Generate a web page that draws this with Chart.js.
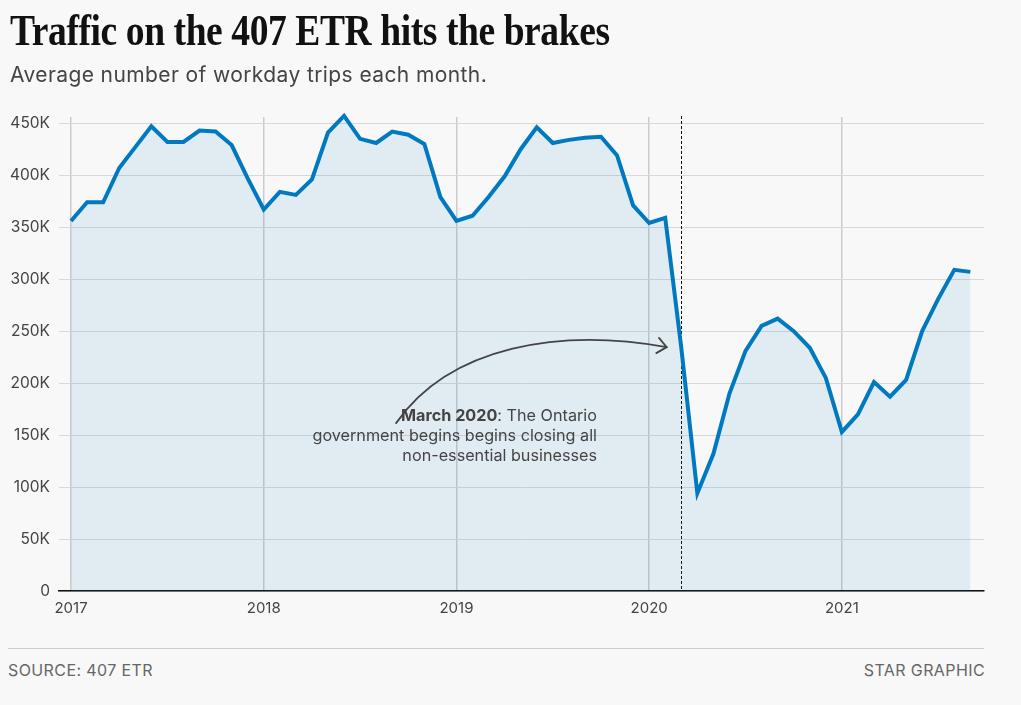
<!DOCTYPE html>
<html>
<head>
<meta charset="utf-8">
<script src="https://cdn.jsdelivr.net/npm/chart.js@4.4.1/dist/chart.umd.min.js"></script>
<style>
  html, body { margin: 0; padding: 0; background: #f8f8f8; }
  body { width: 1021px; height: 705px; position: relative; overflow: hidden; font-family: Inter, "Noto Sans", sans-serif; }
  #wrap { position: absolute; left: 0; top: 0; width: 1021px; height: 640px; }
  #title { position: absolute; left: 10px; top: 9px; font-family: "Liberation Serif", "DejaVu Serif", serif; font-weight: bold; font-size: 44px; line-height: 44px; color: #111; white-space: nowrap; transform-origin: 0 0; display: inline-block; letter-spacing: -0.5px; }
  #subtitle { position: absolute; left: 10px; top: 65px; font-size: 21px; line-height: 20px; letter-spacing: 0.4px; color: #444; white-space: nowrap; }
  #rule { position: absolute; left: 8px; top: 648px; width: 976px; height: 0; border-top: 1px solid #cccccc; }
  .foot { position: absolute; top: 663px; font-size: 16px; line-height: 15px; letter-spacing: 0.4px; color: #666; white-space: nowrap; }
  #source { left: 8px; }
  #credit { right: 36px; }
</style>
</head>
<body>
<div id="wrap"><canvas id="chart"></canvas></div>
<span id="title">Traffic on the 407 ETR hits the brakes</span>
<div id="subtitle">Average number of workday trips each month.</div>
<div id="rule"></div>
<div class="foot" id="source">SOURCE: 407 ETR</div>
<div class="foot" id="credit">STAR GRAPHIC</div>
<script>
// average workday trips, one entry per month
const trips2017 = [356000, 374000, 374000, 407000, 427000, 447000, 432000, 432000, 443000, 442000, 429000, 397000];
const trips2018 = [367000, 384000, 381000, 396000, 441000, 457000, 435000, 431000, 442000, 439000, 430000, 379000];
const trips2019 = [356000, 361000, 379000, 399000, 425000, 446000, 431000, 434000, 436000, 437000, 419000, 371000];
const trips2020 = [354000, 359000, 234000, 94000, 132000, 190000, 231000, 255000, 262000, 250000, 234000, 205000];
const trips2021 = [153000, 170000, 201000, 187000, 203000, 250000, 281000, 309000, 307000];

const yearLabels = ['2017', '2018', '2019', '2020', '2021'];
const yTicks = [0, 50000, 100000, 150000, 200000, 250000, 300000, 350000, 400000, 450000];

const trips = trips2017.concat(trips2018, trips2019, trips2020, trips2021);
const points = trips.map(function (v, i) { return { x: i, y: v }; });

// month index of March 2020 (lockdown marker)
const lockdownMonth = 38;

// annotation, in data units
const noteAnchor = { x: 32.75, y: 164000 };
const noteLines = [
    [{ t: 'March 2020', bold: true }, { t: ': The Ontario', bold: false }],
    [{ t: 'government begins begins closing all', bold: false }],
    [{ t: 'non-essential businesses', bold: false }]
];
const arrowPath = [
    { x: 20.24, y: 161500 },
    { x: 23.6, y: 236000 },
    { x: 30.45, y: 253000 },
    { x: 37.09, y: 234600 }
];

// fit the headline to its width
const title = document.getElementById('title');
title.style.transform = 'scaleX(' + (600 / title.offsetWidth) + ')';

const markers = {
    id: 'markers',
    beforeDatasetsDraw(chart) {
        const c = chart.ctx, xs = chart.scales.x, area = chart.chartArea;
        const px = Math.round(xs.getPixelForValue(lockdownMonth)) + 0.5;
        c.save();
        c.strokeStyle = '#111';
        c.lineWidth = 1;
        c.setLineDash([3, 2]);
        c.beginPath();
        c.moveTo(px, area.top - 1);
        c.lineTo(px, area.bottom);
        c.stroke();
        c.restore();
    },
    afterDatasetsDraw(chart) {
        const c = chart.ctx, xs = chart.scales.x, ys = chart.scales.y;
        const p = arrowPath.map(function (q) { return { x: xs.getPixelForValue(q.x), y: ys.getPixelForValue(q.y) }; });
        c.save();
        c.strokeStyle = '#444';
        c.lineWidth = 1.8;
        c.lineCap = 'round';
        c.beginPath();
        c.moveTo(p[0].x, p[0].y);
        c.bezierCurveTo(p[1].x, p[1].y, p[2].x, p[2].y, p[3].x, p[3].y);
        c.stroke();
        const ang = Math.atan2(p[3].y - p[2].y, p[3].x - p[2].x);
        c.beginPath();
        c.moveTo(p[3].x - 12 * Math.cos(ang - 0.7), p[3].y - 12 * Math.sin(ang - 0.7));
        c.lineTo(p[3].x, p[3].y);
        c.lineTo(p[3].x - 12 * Math.cos(ang + 0.7), p[3].y - 12 * Math.sin(ang + 0.7));
        c.stroke();

        // note text, right aligned
        const ax = xs.getPixelForValue(noteAnchor.x), ay = ys.getPixelForValue(noteAnchor.y);
        c.textBaseline = 'alphabetic';
        c.textAlign = 'left';
        c.fillStyle = '#444';
        noteLines.forEach(function (line, i) {
            let w = 0;
            line.forEach(function (s) {
                c.font = (s.bold ? 'bold ' : '') + '16.2px Inter';
                w += c.measureText(s.t).width;
            });
            let x = ax - w;
            line.forEach(function (s) {
                c.font = (s.bold ? 'bold ' : '') + '16.2px Inter';
                c.fillText(s.t, x, ay + i * 20);
                x += c.measureText(s.t).width;
            });
        });
        c.restore();
    }
};

const ctx = document.getElementById('chart').getContext('2d');
const myChart = new Chart(ctx, {
    type: 'line',
    data: {
        datasets: [{
            label: 'Workday trips',
            data: points,
            borderColor: '#0079c1',
            backgroundColor: 'rgba(0, 119, 194, 0.093)',
            borderWidth: 4,
            fill: 'origin',
            pointRadius: 0,
            tension: 0,
            clip: 8,
            borderJoinStyle: 'miter'
        }]
    },
    options: {
        responsive: true,
        maintainAspectRatio: false,
        animation: false,
        layout: { padding: { top: 117, right: 37, left: 0, bottom: 0 } },
        plugins: {
            legend: { display: false },
            tooltip: { enabled: false }
        },
        scales: {
            x: {
                type: 'linear',
                min: -0.75,
                max: 56.85,
                afterBuildTicks: function (scale) {
                    scale.ticks = yearLabels.map(function (y, i) { return { value: i * 12 }; });
                },
                afterFit: function (scale) { scale.height = 49; },
                grid: { color: '#cbcbcb', lineWidth: 1.5, drawTicks: false },
                border: { display: true, color: '#111', width: 1.5 },
                ticks: {
                    padding: 8,
                    color: '#444',
                    font: { family: 'Inter', size: 15 },
                    maxRotation: 0,
                    callback: function (value) { return yearLabels[value / 12]; }
                }
            },
            y: {
                min: 0,
                max: 456000,
                afterBuildTicks: function (scale) {
                    scale.ticks = yTicks.map(function (v) { return { value: v }; });
                },
                afterFit: function (scale) { scale.width = 59; },
                grid: { color: '#d8d8d8', lineWidth: 1, drawTicks: false },
                border: { display: false },
                ticks: {
                    padding: 9,
                    color: '#444',
                    font: { family: 'Inter', size: 15.5 },
                    callback: function (value) { return value === 0 ? '0' : (value / 1000) + 'K'; }
                }
            }
        }
    },
    plugins: [markers]
});
</script>
</body>
</html>
